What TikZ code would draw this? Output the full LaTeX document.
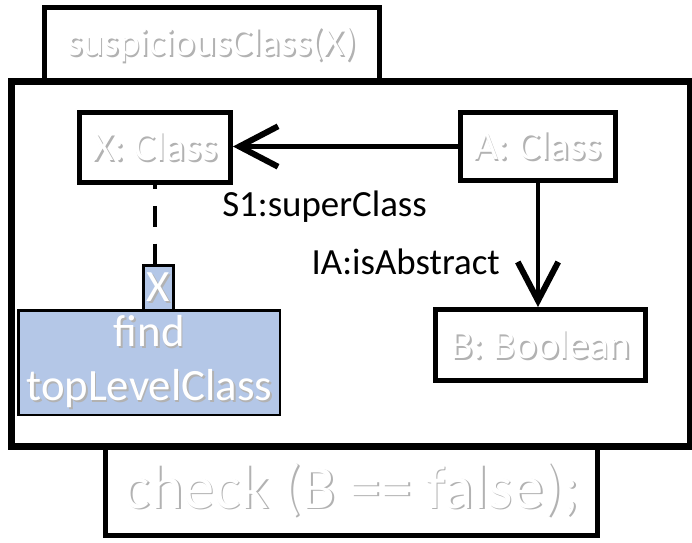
\documentclass[tikz,border=0pt]{standalone}
\usepackage{fontspec}
\setmainfont{Carlito}
\usetikzlibrary{arrows.meta}
\definecolor{findblue}{HTML}{B4C7E7}
% white text with a soft grey shadow
\newcommand{\glow}[1]{\makebox[0pt][l]{\textcolor{black!30}{\kern1pt\raisebox{-1pt}{#1}}}\textcolor{white}{#1}}

\begin{document}
\begin{tikzpicture}[
        x=0.02cm, y=-0.02cm,
        frame/.style={draw=black, line width=2.8pt, fill=white, inner sep=0pt},
        classbox/.style={frame, font=\fontsize{23.5}{28}\selectfont},
        findbox/.style={draw=black, line width=1.5pt, fill=findblue, inner sep=0pt, align=center},
        lbl/.style={font=\fontsize{21}{25}\selectfont, inner sep=0pt},
        arrow/.style={line width=2.6pt, -{Straight Barb[length=22pt, width=23pt, line width=3.4pt]}},
        link/.style={line width=2.8pt, dash pattern=on 11.9pt off 9.6pt, dash phase=9.6pt}
        ]
        \useasboundingbox (0,0) rectangle (692,542);

        \node[frame, minimum width=13.55cm, minimum height=7.26cm] (body) at (351.25,264) {};
        \node[frame, minimum width=6.7cm, minimum height=1.5cm, font=\fontsize{22.5}{27}\selectfont] (head) at (212,45) {\glow{suspiciousClass(X)}};
        \draw[line width=2.8pt] (body.north west) rectangle (body.south east);
        \node[frame, minimum width=9.84cm, minimum height=1.8cm, font=\fontsize{35.5}{42}\selectfont] (check) at (351.5,490.5) {\glow{check (B == false);}};
        \draw[line width=2.8pt] (body.south west) -- (body.south east);

        \node[classbox, minimum width=3.02cm, minimum height=1.4cm] (xclass) at (155,147.5) {\glow{X: Class}};
        \node[classbox, minimum width=3.1cm, minimum height=1.36cm] (aclass) at (538,146.5) {\glow{A: Class}};
        \node[classbox, minimum width=4.2cm, minimum height=1.42cm] (bbool) at (540.5,345) {\glow{B: Boolean}};

        \node[findbox, minimum width=5.23cm, minimum height=2.09cm, font=\fontsize{25.5}{30.6}\selectfont] (find) at (149.25,362.75) {\glow{find}\\\glow{topLevelClass}};
        \node[findbox, minimum width=0.6cm, minimum height=0.9cm, font=\fontsize{25.5}{30.6}\selectfont] (param) at (158.5,288) {\glow{X}};

        \draw[link] (xclass.south) -- (xclass.south |- param.north);
        \draw[arrow] (aclass.west) -- (aclass.west -| xclass.east)
            node[lbl, pos=0.593, below=0.84cm] (superlbl) {S1:superClass};
        \draw[arrow] (aclass.south) -- (aclass.south |- bbool.north)
            node[lbl, pos=0.637, left=0.72cm] (abstractlbl) {IA:isAbstract};

    \end{tikzpicture}
\end{document}
